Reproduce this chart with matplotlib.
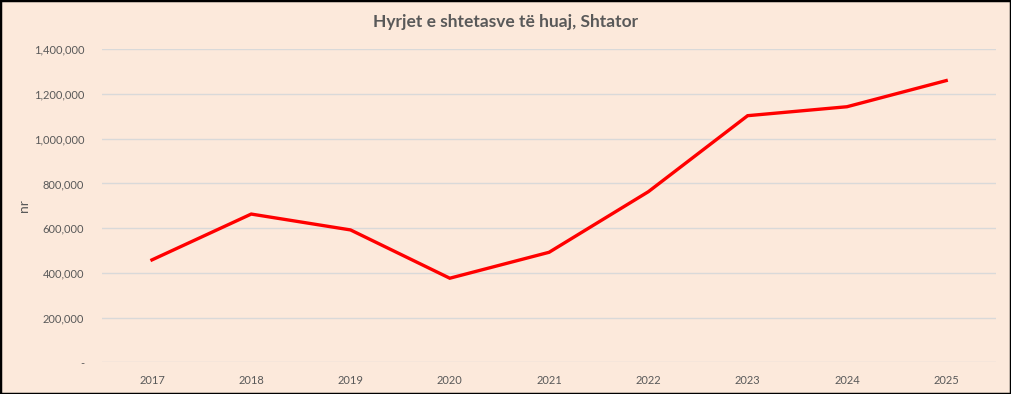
import matplotlib
matplotlib.use("Agg")
import matplotlib.pyplot as plt
from matplotlib.patches import Rectangle
from matplotlib.ticker import FuncFormatter

years = ["2017", "2018", "2019", "2020", "2021", "2022", "2023", "2024", "2025"]
entries = [458000, 663000, 592000, 376000, 492000, 763000, 1103000, 1143000, 1260000]
title = "Hyrjet e shtetasve të huaj, Shtator"
ylabel = "nr"

plt.rcParams['font.family'] = ['Lato', 'DejaVu Sans']
bg = "#FCE9DB"

fig = plt.figure(figsize=(10.11, 3.94), dpi=100)
fig.patch.set_facecolor(bg)
ax = fig.add_axes([0.1012, 0.0805, 0.985 - 0.1012, 0.8749 - 0.0805])
ax.set_facecolor(bg)

x = list(range(len(years)))
ax.plot(x, entries, color="#FF0000", lw=2.4, solid_joinstyle="miter", zorder=3)

ax.set_xlim(-0.5, len(years) - 0.5)
ax.set_ylim(0, 1400000)
ax.set_yticks(range(0, 1400001, 200000))
ax.yaxis.set_major_formatter(FuncFormatter(lambda v, p: "-" if v == 0 else f"{int(v):,}"))
ax.set_xticks(x)
ax.set_xticklabels(years)
ax.grid(axis="y", color="#D9D9D9", lw=1)
ax.set_axisbelow(True)
for s in ax.spines.values():
    s.set_visible(False)
ax.tick_params(axis="both", length=0, colors="#595959", labelsize=8)
ax.tick_params(axis="y", pad=13)
ax.tick_params(axis="x", pad=9)

ax.set_ylabel(ylabel, color="#595959", fontsize=10)
ax.yaxis.set_label_coords(-0.081, 0.5)

fig.text(0.5, 0.944, title, ha="center", va="center", fontsize=12.5,
         fontweight="bold", color="#595959")

fig.add_artist(Rectangle((0, 0), 1, 1, transform=fig.transFigure, fill=False,
                         edgecolor="black", lw=2.5, zorder=10))

fig.savefig("out.png", dpi=100, facecolor=bg)
